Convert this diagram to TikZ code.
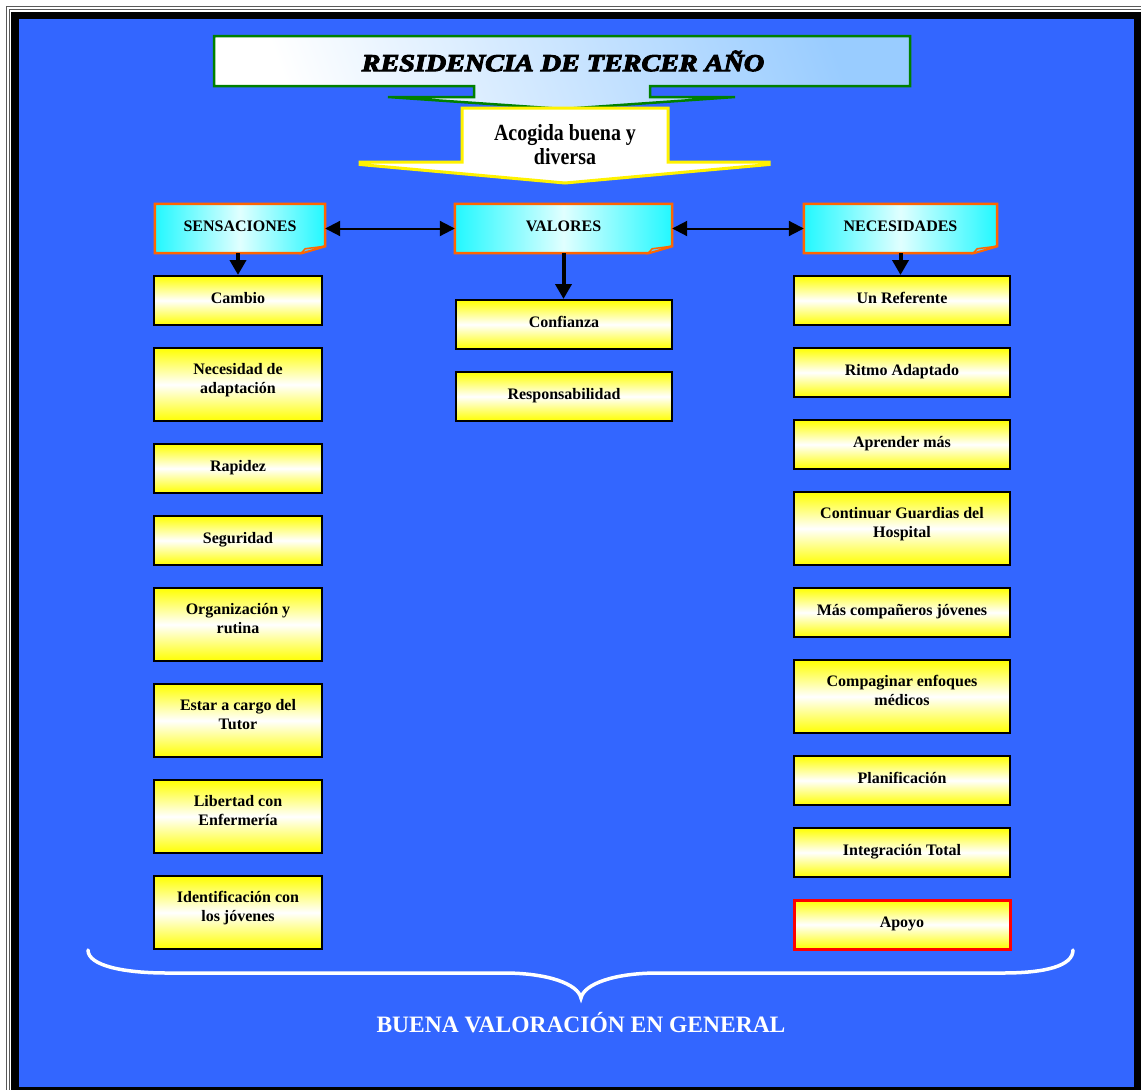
\documentclass[tikz,border=0pt]{standalone}
\usepackage{fontspec}
\usepackage{graphicx}
\setmainfont{Liberation Serif}
\newfontfamily\titlefont{Liberation Serif}[BoldItalicFeatures={FakeBold=4}]
\usetikzlibrary{arrows.meta}
\pgfdeclarelayer{frame}
\pgfdeclarelayer{shapes}
\pgfsetlayers{frame,shapes,main}

\definecolor{bgblue}{HTML}{3366FF}
\definecolor{hdrorange}{HTML}{FF6600}
\definecolor{titleblue}{HTML}{99CCFF}
\definecolor{titlegreen}{HTML}{008000}
\definecolor{hdrcyan}{HTML}{22F8FF}

% header card with a folded bottom-right corner, drawn behind the named node
\newcommand\hdrshape[1]{%
  \path[hdrcard] (#1.north west) -- (#1.north east) -- ([yshift=7pt]#1.south east)
    -- ([xshift=-24pt]#1.south east) -- (#1.south west) -- cycle;
  \filldraw[hdrfold] ([xshift=-24pt]#1.south east) -- ([xshift=-20pt,yshift=4.5pt]#1.south east)
    -- ([yshift=7pt]#1.south east) -- cycle;}

\begin{document}
\begin{tikzpicture}[x=1pt,y=-1pt,
  item/.style={draw=black, line width=2pt, top color=yellow, bottom color=yellow,
    middle color=white, font=\bfseries\fontsize{16}{19}\selectfont, align=center,
    inner sep=0pt, minimum height=49pt, text height=11pt, text depth=6pt},
  tall/.style={minimum height=73pt, text height=27pt, text depth=10pt},
  lcol/.style={minimum width=168pt},
  wcol/.style={minimum width=216pt},
  header/.style={inner sep=0pt, minimum height=49pt, font=\bfseries\fontsize{16}{19}\selectfont,
    text height=11pt, text depth=5pt},
  hdrcard/.style={draw=hdrorange, line width=2.5pt, left color=hdrcyan, right color=hdrcyan,
    middle color=cyan!12!white},
  hdrfold/.style={draw=hdrorange, line width=1.5pt, fill=cyan!60!white},
  link/.style={line width=2pt, {Triangle[length=15pt,width=15pt]}-{Triangle[length=15pt,width=15pt]}},
  drop/.style={line width=4pt, -{Triangle[length=15pt,width=16pt]}}]

\clip (0,0) rectangle (1141,1090);

% page frame
\begin{pgfonlayer}{frame}
  \fill[white] (0,0) rectangle (1141,1090);
  \draw[black!65, line width=1pt] (6.5,6.5) rectangle (1200,1200);
  \draw[black!65, line width=1pt] (9.5,9.5) rectangle (1200,1200);
  \fill[black] (11,12) rectangle (1200,1200);
  \fill[bgblue] (18.5,19) rectangle (1134,1087);
\end{pgfonlayer}

% title banner and its down arrows
\node[font=\titlefont\bfseries\itshape\fontsize{22.5}{24}\selectfont] (title) at (563,61)
  {\scalebox{1.25}[1.08]{RESIDENCIA DE TERCER AÑO}};
\node[font=\bfseries\fontsize{21}{24}\selectfont, align=center] (welcome) at (565,145)
  {\scalebox{0.95}[1.1]{Acogida buena y}\\[0pt]\scalebox{0.95}[1.1]{diversa}};

\begin{pgfonlayer}{shapes}
  \path[draw=titlegreen, line width=2.5pt, line join=miter, top color=titleblue, bottom color=white,
        shading angle=-70]
    (214,36) -- (910,36) -- (910,86) -- (650,86) -- (650,97) -- (735,97) -- (563,109)
    -- (388,97) -- (474,97) -- (474,86) -- (214,86) -- cycle;
  \filldraw[draw=yellow, line width=3pt, fill=white]
    (462,108) -- (668,108) -- (668,162) -- (769,162) -- (769,164.5) -- (565,183)
    -- (360,164.5) -- (360,162) -- (462,162) -- cycle;
\end{pgfonlayer}

% column headers
\node[header, minimum width=170pt] (sens) at (240,228.5) {SENSACIONES};
\node[header, minimum width=217pt] (vals) at (563.5,228.5) {VALORES};
\node[header, minimum width=193pt] (needs) at (900.5,228.5) {NECESIDADES};
\begin{pgfonlayer}{shapes}
  \hdrshape{sens}
  \hdrshape{vals}
  \hdrshape{needs}
\end{pgfonlayer}

% sensaciones
\node[item, lcol] (s1) at (238,300.5) {Cambio};
\node[item, lcol, tall] (s2) at (238,384.5) {Necesidad de\\adaptación};
\node[item, lcol] (s3) at (238,468.5) {Rapidez};
\node[item, lcol] (s4) at (238,540.5) {Seguridad};
\node[item, lcol, tall] (s5) at (238,624.5) {Organización y\\rutina};
\node[item, lcol, tall] (s6) at (238,720.5) {Estar a cargo del\\Tutor};
\node[item, lcol, tall] (s7) at (238,816.5) {Libertad con\\Enfermería};
\node[item, lcol, tall] (s8) at (238,912.5) {Identificación con\\los jóvenes};

% valores
\node[item, wcol] (v1) at (564,324.5) {Confianza};
\node[item, wcol] (v2) at (564,396.5) {Responsabilidad};

% necesidades
\node[item, wcol] (n1) at (902,300.5) {Un Referente};
\node[item, wcol] (n2) at (902,372.5) {Ritmo Adaptado};
\node[item, wcol] (n3) at (902,444.5) {Aprender más};
\node[item, wcol, tall] (n4) at (902,528.5) {Continuar Guardias del\\Hospital};
\node[item, wcol] (n5) at (902,612.5) {Más compañeros jóvenes};
\node[item, wcol, tall] (n6) at (902,696.5) {Compaginar enfoques\\médicos};
\node[item, wcol] (n7) at (902,780.5) {Planificación};
\node[item, wcol] (n8) at (902,852.5) {Integración Total};
\node[item, wcol, draw=red, line width=3pt] (n9) at (902,924.5) {Apoyo};

% connectors
\draw[link] (sens.east) -- (vals.west);
\draw[link] (vals.east) -- (needs.west);
\draw[drop] (sens.south -| s1.north) -- (s1.north);
\draw[drop] (vals.south) -- (vals.south |- v1.north);
\draw[drop] (needs.south) -- (needs.south |- n1.north);

% closing brace and summary
\coordinate (braceL) at (88,950);
\coordinate (braceR) at (1073,950);
\coordinate (braceTip) at (581,998);
\draw[white, line width=3.5pt, line cap=round]
  (braceL) .. controls (88,966) and (125,973) .. (167,973) -- (504,973)
  .. controls (548,973) and (578,984) .. (braceTip)
  .. controls (584,984) and (614,973) .. (658,973) -- (1003,973)
  .. controls (1045,973) and (1073,966) .. (braceR);
\node[text=white, font=\bfseries\fontsize{23.5}{26}\selectfont] (summary) at (581,1023)
  {BUENA VALORACIÓN EN GENERAL};

\end{tikzpicture}
\end{document}
